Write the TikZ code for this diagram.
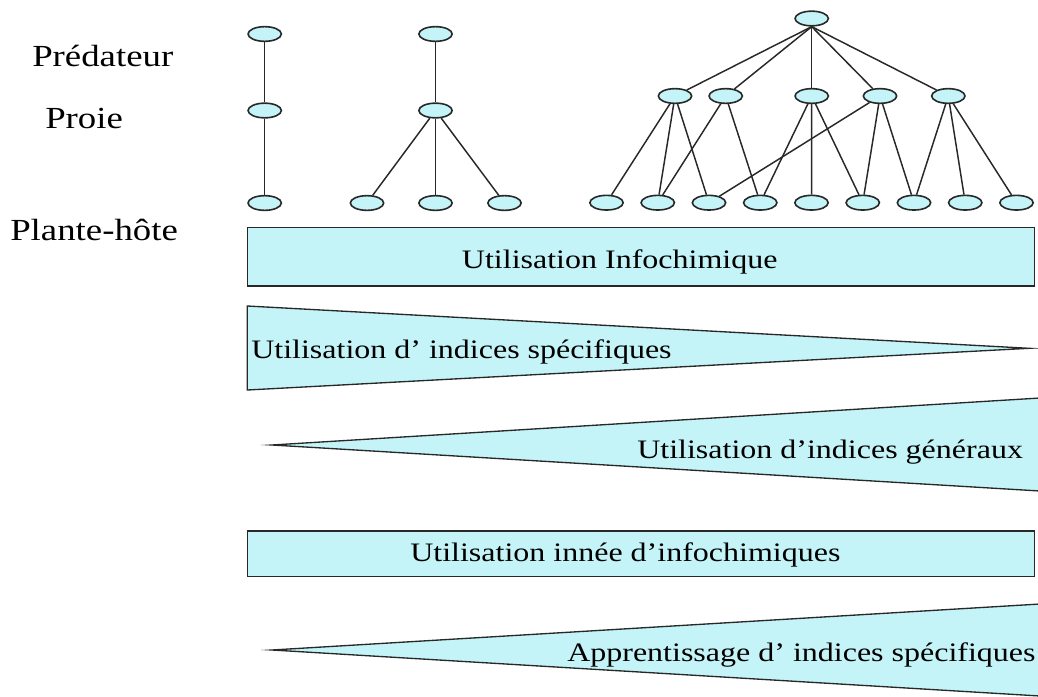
\documentclass[tikz,border=0pt]{standalone}
\usepackage{fontspec}
\setmainfont[FakeStretch=1.2]{Liberation Serif}
\usetikzlibrary{shapes.geometric}
\definecolor{paleaqua}{RGB}{196,244,248}
\definecolor{inkgray}{RGB}{40,40,40}

\begin{document}
\begin{tikzpicture}[x=0.75pt,y=-0.75pt,
  taxon/.style={ellipse,draw=inkgray,line width=1.2pt,fill=paleaqua,minimum width=25pt,minimum height=11pt,inner sep=0pt},
  link/.style={line width=1.1pt,draw=inkgray},
  band/.style={draw=inkgray,line width=1pt,fill=paleaqua,miter limit=40},
  rowlabel/.style={anchor=base west,inner sep=0pt,font=\fontsize{23}{26}\selectfont},
  caption/.style={anchor=base west,inner sep=0pt,font=\fontsize{20}{24}\selectfont}
]
\useasboundingbox (0,0) rectangle (1038,696);

% trophic levels
\node[rowlabel] (lblpred) at (32,66) {Prédateur};
\node[rowlabel] (lblproie) at (45,128) {Proie};
\node[rowlabel] (lblplante) at (10,240) {Plante-hôte};

% simple chain
\node[taxon] (a1) at (264.7,34) {};
\node[taxon] (a2) at (264.7,110.5) {};
\node[taxon] (a3) at (264.7,203) {};
\draw[link] (a1) -- (a2);
\draw[link] (a2) -- (a3);

% one prey on three plants
\node[taxon] (b1) at (435.5,34) {};
\node[taxon] (b2) at (435.5,110.5) {};
\node[taxon] (b3) at (367,203) {};
\node[taxon] (b4) at (435.5,203) {};
\node[taxon] (b5) at (504.5,203) {};
\draw[link] (b1) -- (b2);
\draw[link] (b2) -- (b3);
\draw[link] (b2) -- (b4);
\draw[link] (b2) -- (b5);

% full web
\node[taxon] (c0) at (811.7,18.5) {};
\node[taxon] (m1) at (675,96) {};
\node[taxon] (m2) at (725.7,96) {};
\node[taxon] (m3) at (811.7,96) {};
\node[taxon] (m4) at (880,96) {};
\node[taxon] (m5) at (948.3,96) {};
\node[taxon] (p1) at (606.5,202.7) {};
\node[taxon] (p2) at (657.75,202.7) {};
\node[taxon] (p3) at (709,202.7) {};
\node[taxon] (p4) at (760.25,202.7) {};
\node[taxon] (p5) at (811.5,202.7) {};
\node[taxon] (p6) at (862.75,202.7) {};
\node[taxon] (p7) at (914,202.7) {};
\node[taxon] (p8) at (965.25,202.7) {};
\node[taxon] (p9) at (1016.5,202.7) {};
\draw[link] (c0.south) -- (m1);
\draw[link] (c0.south) -- (m2);
\draw[link] (c0.south) -- (m3);
\draw[link] (c0.south) -- (m4);
\draw[link] (c0.south) -- (m5);
\draw[link] (m1) -- (p1);
\draw[link] (m1) -- (p2);
\draw[link] (m1) -- (p3);
\draw[link] (m2) -- (p2);
\draw[link] (m2) -- (p4);
\draw[link] (m3) -- (p4);
\draw[link] (m3) -- (p5);
\draw[link] (m3) -- (p6);
\draw[link] (m4) -- (p3);
\draw[link] (m4) -- (p6);
\draw[link] (m4) -- (p7);
\draw[link] (m5) -- (p7);
\draw[link] (m5) -- (p8);
\draw[link] (m5) -- (p9);

% bands
\draw[band] (247.3,227.3) rectangle (1034.3,286);
\node[caption] (infochim) at (461.7,268.3) {Utilisation Infochimique};

\draw[band] (247.3,306) -- (1029,348.3) -- (247.3,390) -- cycle;
\node[caption] (specif) at (251,358.3) {Utilisation d’ indices spécifiques};

\draw[band] (272,445) -- (1040,398) -- (1040,491) -- cycle;
\node[caption] (generaux) at (637,458.3) {Utilisation d’indices généraux};

\draw[band] (247.3,531) rectangle (1034.3,576.7);
\node[caption] (innee) at (410,561.7) {Utilisation innée d’infochimiques};

\draw[band] (272,650) -- (1040,604) -- (1040,696) -- cycle;
\node[caption] (apprent) at (567,661.7) {Apprentissage d’ indices spécifiques};
\end{tikzpicture}
\end{document}
